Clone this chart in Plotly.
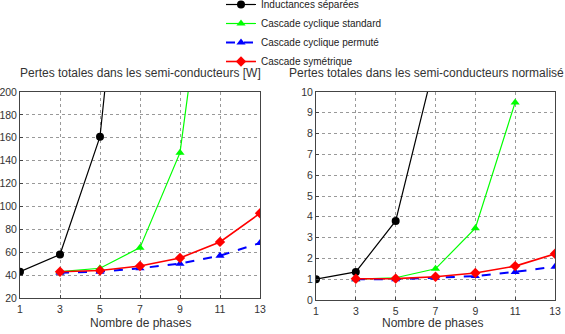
import plotly.graph_objects as go

x_sep = [1, 3, 5, 7]
x_std = [3, 5, 7, 9, 11]
x_rest = [3, 5, 7, 9, 11, 13]

# Left: absolute losses [W]
sep_w = [43, 58, 161, 497]
std_w = [43, 46, 64, 147, 408]
perm_w = [42, 43, 46, 50, 57, 68]
sym_w = [43, 44, 48, 55, 69, 94]

# Right: normalised losses
sep_n = [1.0, 1.35, 3.8, 11.55]
std_n = [1.0, 1.07, 1.5, 3.45, 9.5]
perm_n = [1.0, 1.0, 1.07, 1.15, 1.35, 1.6]
sym_n = [1.02, 1.03, 1.12, 1.3, 1.63, 2.22]

x_ticks = [1, 3, 5, 7, 9, 11, 13]

names = ["Inductances séparées", "Cascade cyclique standard",
         "Cascade cyclique permuté", "Cascade symétrique"]
colors = ["#000000", "#00ff00", "#0000ff", "#ff0000"]
symbols = ["circle", "triangle-up", "triangle-up", "diamond"]
dashes = ["solid", "solid", "dash", "solid"]
widths = [1.2, 1.2, 2, 1.6]
xs = [x_sep, x_std, x_rest, x_rest]

fig = go.Figure()
for k, (data, xa, ya) in enumerate([([sep_w, std_w, perm_w, sym_w], "x", "y"),
                                     ([sep_n, std_n, perm_n, sym_n], "x2", "y2")]):
    for i in range(4):
        fig.add_trace(go.Scatter(
            x=xs[i], y=data[i], xaxis=xa, yaxis=ya, name=names[i],
            mode="lines+markers", showlegend=(k == 0),
            line=dict(color=colors[i], width=widths[i], dash=dashes[i]),
            marker=dict(symbol=symbols[i], size=8, color=colors[i]),
        ))

W, H = 565, 334
def px(v): return v / W
def py(v): return 1 - v / H

axis_common = dict(showgrid=True, gridcolor="#999999", griddash="dot", gridwidth=1,
                   showline=True, linecolor="#444", linewidth=1, mirror=True,
                   zeroline=False, ticks="inside", ticklen=3, tickcolor="#444",
                   tickfont=dict(size=10.5, color="#333"))

fig.update_layout(
    width=W, height=H, margin=dict(l=0, r=0, t=0, b=0, autoexpand=False),
    paper_bgcolor="white", plot_bgcolor="white",
    font=dict(family="Liberation Sans, Arial, sans-serif", color="#333"),
    xaxis=dict(domain=[px(20), px(260)], range=[1, 13], tickvals=x_ticks,
               anchor="y", ticklabelstandoff=1, **axis_common),
    yaxis=dict(domain=[py(298), py(92)], range=[20, 200], dtick=20, anchor="x", **axis_common),
    xaxis2=dict(domain=[px(316), px(555)], range=[1, 13], tickvals=x_ticks,
                anchor="y2", ticklabelstandoff=1, **axis_common),
    yaxis2=dict(domain=[py(300), py(92)], range=[0, 10], dtick=1, anchor="x2", **axis_common),
    legend=dict(x=px(221), y=1 + 10 / H, xanchor="left", yanchor="top", bgcolor="rgba(0,0,0,0)",
                font=dict(size=10, color="#222"), tracegroupgap=0, itemwidth=30),
    showlegend=True,
)

ann = dict(xref="paper", yref="paper", showarrow=False, yanchor="middle",
           font=dict(size=12, color="#333"))
fig.add_annotation(text="Pertes totales dans les semi-conducteurs [W]", x=px(140), y=py(73),
                   xanchor="center", **ann)
fig.add_annotation(text="Pertes totales dans les semi-conducteurs normalisé", x=px(287), y=py(73),
                   xanchor="left", **ann)
fig.add_annotation(text="Nombre de phases", x=px(140), y=py(323), xanchor="center", **ann)
fig.add_annotation(text="Nombre de phases", x=px(433), y=py(323), xanchor="center", **ann)

fig.write_html("out.html")
